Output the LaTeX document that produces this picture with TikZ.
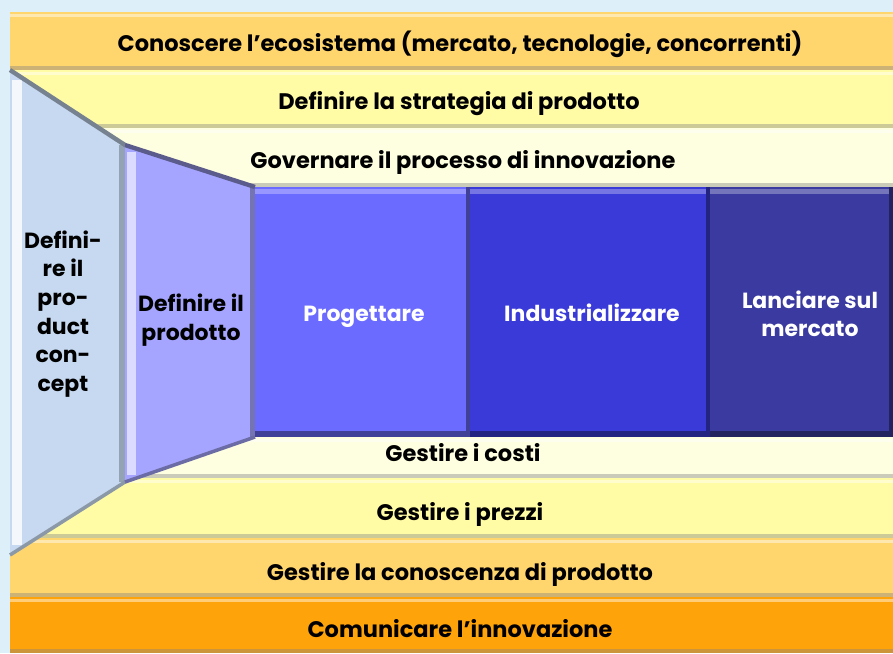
\documentclass[tikz,border=0pt]{standalone}
\usepackage{fontspec}
\setmainfont{Poppins}
\usetikzlibrary{positioning}

\definecolor{backblue}{HTML}{DDEFF9}
\definecolor{bandorange}{HTML}{FFD56E}
\definecolor{bandyellow}{HTML}{FFFCA5}
\definecolor{bandcream}{HTML}{FEFEE0}
\definecolor{banddeep}{HTML}{FFA30A}
\definecolor{conceptblue}{HTML}{C6D9F0}
\definecolor{productblue}{HTML}{A5A5FF}
\definecolor{phaseone}{HTML}{6B6BFF}
\definecolor{phasetwo}{HTML}{3A3AD8}
\definecolor{phasethree}{HTML}{3A3AA0}

\begin{document}
\begin{tikzpicture}[x=0.02cm, y=-0.02cm,
  bandlabel/.style={font=\bfseries\fontsize{12.8}{15}\selectfont, inner sep=0pt, text height=0.7em, text depth=0pt},
  sidelabel/.style={font=\bfseries\fontsize{12.5}{16.3}\selectfont, align=center, inner sep=0pt},
  phaselabel/.style={font=\bfseries\fontsize{12.5}{16}\selectfont, text=white, align=center, inner sep=0pt}]

  % Define background
  \fill[backblue] (0,0) rectangle (893,653);
  \useasboundingbox (0,0) rectangle (893,653);

  % Define bands
  \foreach \ytop/\ybot/\col in {12/70/bandorange, 70/128/bandyellow, 128/187/bandcream,
      437/478/bandcream, 478/538/bandyellow, 538/597/bandorange, 597/653/banddeep} {
    \fill[\col] (10,\ytop) rectangle (893,\ybot);
    \fill[\col!55!white] (10,\ytop+2) rectangle (893,\ytop+5);
    \fill[\col!75!black!80!white] (10,\ybot-4) rectangle (893,\ybot);
  }

  % Define funnel
  \fill[conceptblue] (10,70) -- (125,145) -- (125,482) -- (10,555) -- cycle;
  \fill[white!80!conceptblue] (12,80) rectangle (22,545);
  \fill[conceptblue!75!black] (119,145) rectangle (125,482);
  \draw[conceptblue!60!black, line width=2.5pt] (10,70) -- (125,145);
  \draw[conceptblue!70!black, line width=2pt] (10,555) -- (125,482);

  \fill[productblue] (125,145) -- (255,187) -- (255,437) -- (125,482) -- cycle;
  \fill[white!60!productblue] (127,152) rectangle (136,475);
  \fill[productblue!70!black] (250,187) rectangle (255,437);
  \draw[productblue!55!black, line width=2.5pt] (125,145) -- (255,187);
  \draw[productblue!65!black, line width=2pt] (125,482) -- (255,437);

  % Define phases
  \foreach \xl/\xr/\col in {255/470/phaseone, 470/710/phasetwo, 710/893/phasethree} {
    \fill[\col] (\xl,187) rectangle (\xr,437);
    \fill[\col!70!white] (\xl,189) rectangle (\xr,194);
    \fill[\col!60!black] (\xl,431) rectangle (\xr,437);
    \fill[\col!60!black] (\xr-4,187) rectangle (\xr,437);
  }

  % Define nodes
  \node[bandlabel] (ecosistema) at (460,45) {Conoscere l’ecosistema (mercato, tecnologie, concorrenti)};
  \node[bandlabel] (strategia) at (459,103) {Definire la strategia di prodotto};
  \node[bandlabel] (governo) at (463,162) {Governare il processo di innovazione};
  \node[bandlabel] (costi) at (463,455) {Gestire i costi};
  \node[bandlabel] (prezzi) at (460,514) {Gestire i prezzi};
  \node[bandlabel] (conoscenza) at (460,574) {Gestire la conoscenza di prodotto};
  \node[bandlabel] (comunicazione) at (460,631) {Comunicare l’innovazione};

  \node[sidelabel] (concept) at (63,314) {Defini-\\re il\\pro-\\duct\\con-\\cept};
  \node[sidelabel] (prodotto) at (191,320) {Definire il\\prodotto};

  \node[phaselabel, text height=0.7em, text depth=0pt] (progettare) at (364,315) {Progettare};
  \node[phaselabel, text height=0.7em, text depth=0pt] (industrializzare) at (592,315) {Industrializzare};
  \node[phaselabel] (lancio) at (810,314) {Lanciare sul\\mercato};

\end{tikzpicture}
\end{document}
